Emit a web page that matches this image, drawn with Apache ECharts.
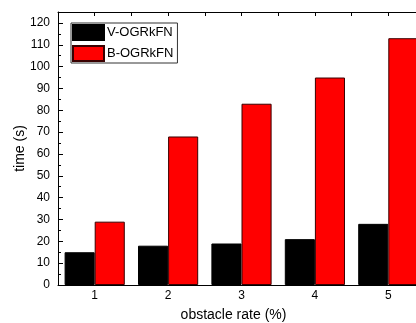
<!DOCTYPE html>
<html>
<head>
<meta charset="utf-8">
<script src="https://cdn.jsdelivr.net/npm/echarts@6/dist/echarts.min.js"></script>
<style>
  html, body { margin: 0; padding: 0; background: #fff; }
  #chart { width: 416px; height: 323px; }
</style>
</head>
<body>
<div id="chart"></div>
<script>
// obstacle rate categories and times (s)
var rates = ['1', '2', '3', '4', '5'];
var vTimes = [15, 18, 19, 21, 28];
var bTimes = [29, 68, 83, 95, 113];
var seriesNames = ['V-OGRkFN', 'B-OGRkFN'];

var font = 'Liberation Sans, Arial, sans-serif';

var chart = echarts.init(document.getElementById('chart'), null, { renderer: 'canvas' });

var option = {
    animation: false,
    backgroundColor: '#fff',
    textStyle: { fontFamily: font, color: '#000' },
    // plot runs off the right edge of the picture, like the reference crop
    grid: {
        left: 58,
        top: 12,
        width: 367,
        height: 273,
        containLabel: false,
        outerBoundsMode: 'none'
    },
    legend: {
        orient: 'vertical',
        left: 71,
        top: 23,
        padding: [1, 4, 1, 1],
        itemGap: 4,
        itemWidth: 31,
        itemHeight: 15,
        icon: 'rect',
        borderColor: '#333',
        borderWidth: 1,
        textStyle: { fontFamily: font, fontSize: 13, color: '#000', padding: [0, 0, 0, -2] },
        data: seriesNames
    },
    xAxis: [
        {
            type: 'category',
            data: rates,
            position: 'bottom',
            name: 'obstacle rate (%)',
            nameLocation: 'middle',
            nameGap: 23,
            nameMoveOverlap: false,
            nameTextStyle: { fontFamily: font, fontSize: 14, color: '#000', padding: [0, 16, 0, 0] },
            axisLine: { lineStyle: { color: '#000', width: 1 } },
            axisTick: { inside: true, length: 4, lineStyle: { color: '#000' } },
            axisLabel: { fontFamily: font, fontSize: 12, color: '#000', margin: 5 },
            splitLine: { show: false }
        },
        {
            type: 'value',
            position: 'top',
            min: 0.5,
            max: 5.5,
            interval: 0.5,
            axisLine: { show: true, onZero: false, lineStyle: { color: '#000', width: 1 } },
            axisTick: { show: true, inside: true, length: 4, lineStyle: { color: '#000' } },
            axisLabel: { show: false },
            splitLine: { show: false }
        }
    ],
    yAxis: {
        type: 'value',
        min: 0,
        max: 125,
        interval: 10,
        name: 'time (s)',
        nameLocation: 'middle',
        nameGap: 31,
        nameMoveOverlap: false,
        nameTextStyle: { fontFamily: font, fontSize: 14, color: '#000' },
        axisLine: { show: true, lineStyle: { color: '#000', width: 1 } },
        axisTick: { inside: true, length: 5, lineStyle: { color: '#000' } },
        minorTick: { show: true, splitNumber: 2, length: 3, lineStyle: { color: '#000' } },
        axisLabel: {
            fontFamily: font,
            fontSize: 12,
            color: '#000',
            margin: 8,
            formatter: function(v) {
                return v % 10 === 0 ? String(v) : '';
            }
        },
        splitLine: { show: false }
    },
    series: [
        {
            name: seriesNames[0],
            type: 'bar',
            xAxisIndex: 0,
            barGap: 0,
            barCategoryGap: '18%',
            itemStyle: { color: '#000', borderColor: '#000', borderWidth: 1 },
            data: vTimes
        },
        {
            name: seriesNames[1],
            type: 'bar',
            xAxisIndex: 0,
            barGap: 0,
            barCategoryGap: '18%',
            itemStyle: { color: '#ff0000', borderColor: '#3a0000', borderWidth: 1 },
            data: bTimes
        }
    ]
};

chart.setOption(option);
</script>
</body>
</html>
